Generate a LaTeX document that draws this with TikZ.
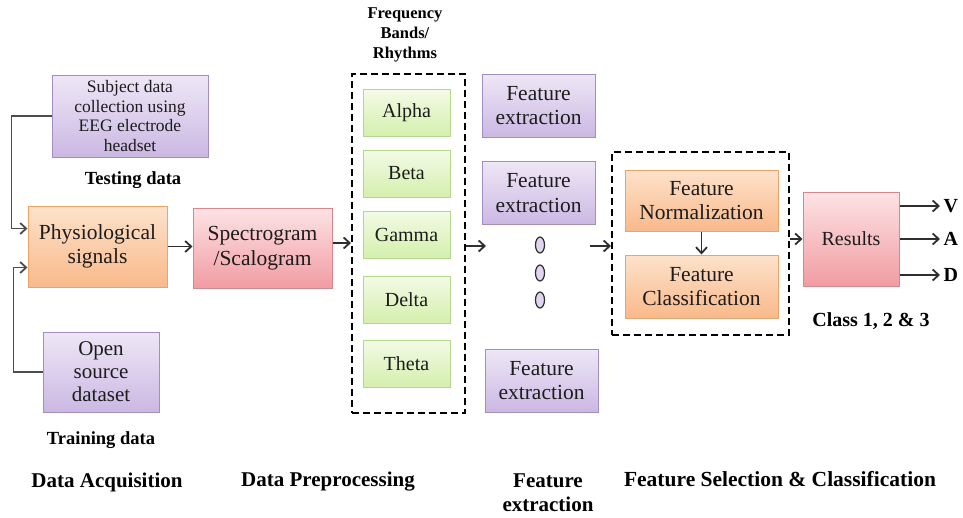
\documentclass[tikz,border=0pt]{standalone}
\usepackage{fontspec}
\setmainfont{Liberation Serif}
\usetikzlibrary{arrows.meta,shapes.geometric}

\definecolor{txt}{HTML}{1C1C1C}
\definecolor{linec}{HTML}{2E2E2E}
\definecolor{purT}{HTML}{EEE7F6}
\definecolor{purB}{HTML}{CBB8E3}
\definecolor{purD}{HTML}{A48DC6}
\definecolor{orT}{HTML}{FDE2CB}
\definecolor{orB}{HTML}{F9B98B}
\definecolor{orD}{HTML}{F2A167}
\definecolor{pkT}{HTML}{FDE3E5}
\definecolor{pkB}{HTML}{F09CA2}
\definecolor{pkD}{HTML}{E0848A}
\definecolor{grT}{HTML}{F3FBE6}
\definecolor{grB}{HTML}{D4EFAD}
\definecolor{grD}{HTML}{B3D98C}

\tikzset{
  box/.style={rectangle, align=center, inner sep=2pt, text=txt,
    font=\fontsize{21.5}{24.5}\selectfont, line width=1pt},
  purplebox/.style={box, draw=purD, top color=purT, bottom color=purB},
  orangebox/.style={box, draw=orD, top color=orT, bottom color=orB},
  pinkbox/.style={box, draw=pkD, top color=pkT, bottom color=pkB},
  greenbox/.style={box, draw=grD, top color=grT, bottom color=grB,
    minimum width=87pt, minimum height=47pt, font=\fontsize{20}{23}\selectfont},
  febox/.style={purplebox, minimum width=113pt, minimum height=63pt},
  dashbox/.style={rectangle, draw=black, line width=2pt, dash pattern=on 7pt off 4pt},
  lbl/.style={font=\bfseries\fontsize{21}{24}\selectfont, text=black, align=center},
  smalllbl/.style={font=\bfseries\fontsize{18.5}{21}\selectfont, text=black, align=center},
  tip/.style={-{Straight Barb[length=6pt,width=11pt,line width=1.8pt]}},
  arr/.style={draw=linec, line width=1.6pt, tip},
  feed/.style={draw=linec!85, line width=1.6pt, tip},
  dot/.style={ellipse, draw=linec, line width=1.2pt, fill=purB!60, minimum width=9pt,
    minimum height=16pt, inner sep=0pt},
}

\begin{document}
\begin{tikzpicture}[x=1pt, y=-1pt]
\path[use as bounding box] (0,0) rectangle (963,517);

% data acquisition
\node[purplebox, minimum width=156pt, minimum height=82pt,
  font=\fontsize{17.5}{19.5}\selectfont] (subj) at (130,116)
  {Subject data\\collection using\\EEG electrode\\headset};
\node[smalllbl] (testlbl) at (133,180) {Testing data};
\node[orangebox, minimum width=139pt, minimum height=81pt] (phys) at (97.5,246.5)
  {Physiological\\signals};
\node[purplebox, minimum width=116pt, minimum height=80pt,
  font=\fontsize{21}{23}\selectfont] (open) at (101,372) {Open\\source\\dataset};
\node[smalllbl] (trainlbl) at (101,440) {Training data};

\draw[feed] (subj.west) -- ++(-40,0) |- ([yshift=18pt]phys.west);
\draw[feed] (open.west) -- ++(-29,0) |- ([yshift=-21pt]phys.west);

% preprocessing
\node[pinkbox, minimum width=139pt, minimum height=80pt] (spec) at (262.5,248)
  {Spectrogram\\/Scalogram};
\draw[arr] (phys.east) -- (phys.east -| spec.west);

% frequency bands
\node[font=\bfseries\fontsize{16.5}{20}\selectfont, align=center] (fbtitle) at (405,35)
  {Frequency\\Bands/\\Rhythms};
\node[dashbox, minimum width=113pt, minimum height=339pt] (fb) at (408.5,243.5) {};
\node[greenbox] (alpha) at (406.5,113) {Alpha};
\node[greenbox] (beta)  at (406.5,173.5) {Beta};
\node[greenbox] (gamma) at (406.5,234.5) {Gamma};
\node[greenbox] (delta) at (406.5,299.5) {Delta};
\node[greenbox] (theta) at (406.5,363.5) {Theta};
\draw[arr] ([yshift=5pt]spec.east) -- ([yshift=5pt]spec.east -| fb.west);

% feature extraction
\node[febox] (fe1) at (538.5,105.5) {Feature\\extraction};
\node[febox] (fe2) at (538.5,193) {Feature\\extraction};
\node[febox] (fe3) at (541.5,380.5) {Feature\\extraction};
\node[dot] (d1) at (540,245) {};
\node[dot] (d2) at (540,273) {};
\node[dot] (d3) at (540,300) {};
\coordinate (feIn) at (486,246);
\coordinate (feOut) at (590,246);
\draw[arr] (fb.east |- feIn) -- (feIn);

% feature selection and classification
\node[dashbox, minimum width=177pt, minimum height=183pt] (fs) at (700.5,243.5) {};
\node[orangebox, minimum width=153pt, minimum height=61pt] (norm) at (701.5,200.5)
  {Feature\\Normalization};
\node[orangebox, minimum width=153pt, minimum height=63pt] (cls) at (701.5,286.5)
  {Feature\\Classification};
\draw[arr] (norm.south) -- (cls.north);
\draw[arr] (feOut) -- (feOut -| fs.west);

% results
\node[pinkbox, minimum width=96pt, minimum height=94pt,
  font=\fontsize{20}{23}\selectfont] (res) at (851,239) {Results};
\draw[arr] (fs.east |- res.west) -- (res.west);
\node[lbl, font=\bfseries\fontsize{20}{23}\selectfont, anchor=west] (v) at (940,206) {V};
\node[lbl, font=\bfseries\fontsize{20}{23}\selectfont, anchor=west] (a) at (940,239) {A};
\node[lbl, font=\bfseries\fontsize{20}{23}\selectfont, anchor=west] (d) at (940,275) {D};
\draw[arr] (res.east |- v.west) -- (v.west);
\draw[arr] (res.east |- a.west) -- (a.west);
\draw[arr] (res.east |- d.west) -- (d.west);
\node[lbl, font=\bfseries\fontsize{20}{23}\selectfont] (classlbl) at (871,321) {Class 1, 2 \& 3};

% stage captions
\node[lbl] (stA) at (107,482) {Data Acquisition};
\node[lbl] (stP) at (328,482) {Data Preprocessing};
\node[lbl] (stE) at (548,493) {Feature\\extraction};
\node[lbl, font=\bfseries\fontsize{21.5}{24}\selectfont] (stS) at (780,479)
  {Feature Selection \& Classification};
\end{tikzpicture}
\end{document}
